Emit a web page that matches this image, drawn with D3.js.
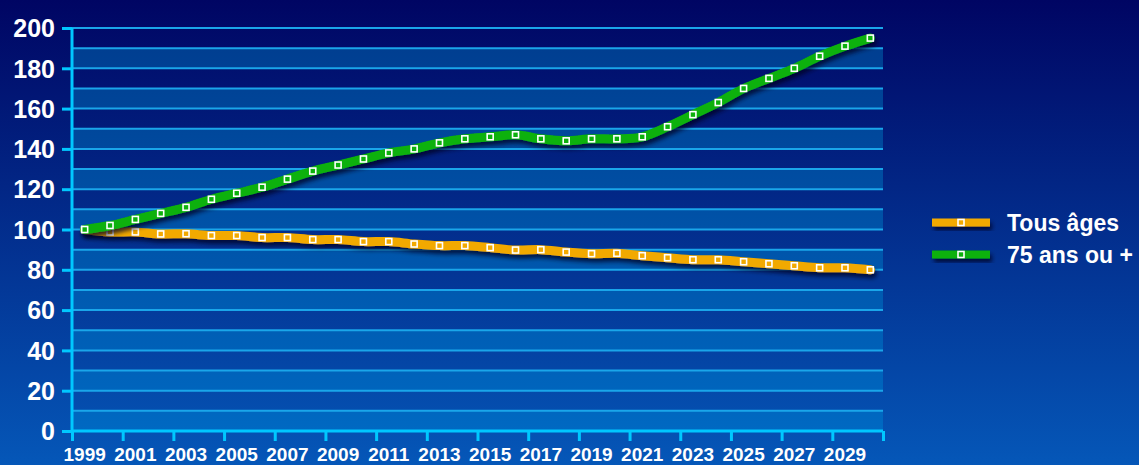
<!DOCTYPE html>
<html><head><meta charset="utf-8">
<script src="https://cdn.jsdelivr.net/npm/d3@7"></script>
<style>html,body{margin:0;padding:0;background:#000766;}svg{display:block;}</style>
</head><body>
<svg id="chart" width="1139" height="465"></svg>
<script>
const years = d3.range(1999, 2031).map(String);
const tousAges = [100,98.8,98.8,97.8,97.9,97,97,96,96,95,95,94,94,92.8,92,92,91,89.8,90,88.8,88,88.2,87,86,85,85,84,83,82,81,81,80];
const ans75 = [100,102,105,108,111,115,118,121,125,129,132,135,138,140,143,145,146,147,145,144,145,145,146,151,157,163,170,175,180,186,191,195];
const seriesNames = ["Tous âges","75 ans ou +"];
const seriesColors = ["#f2a900","#0cb10c"];
const yTicks = [0,20,40,60,80,100,120,140,160,180,200];
const xLabelYears = years.filter((d,i)=>i%2===0);

const svg = d3.select("#chart");
const W = 1139, H = 465;
const L = 72, R = 883, T = 28, B = 431;

const defs = svg.append("defs");
const bg = defs.append("linearGradient").attr("id","bg").attr("x1",0).attr("y1",0).attr("x2",0).attr("y2",1);
bg.append("stop").attr("offset","0%").attr("stop-color","#000563");
bg.append("stop").attr("offset","100%").attr("stop-color","#0557b8");
const lb = defs.append("linearGradient").attr("id","lb").attr("gradientUnits","userSpaceOnUse").attr("x1",0).attr("y1",T).attr("x2",0).attr("y2",B);
lb.append("stop").attr("offset","0%").attr("stop-color","#003c8e");
lb.append("stop").attr("offset","100%").attr("stop-color","#0069c2");
const sh = defs.append("filter").attr("id","shadow").attr("x","-10%").attr("y","-30%").attr("width","130%").attr("height","180%");
sh.append("feDropShadow").attr("dx",2).attr("dy",4).attr("stdDeviation",2).attr("flood-color","#000020").attr("flood-opacity",0.75);

svg.append("rect").attr("width",W).attr("height",H).attr("fill","url(#bg)");

const x = d3.scaleBand().domain(years).range([L,R]);
const xb = d3.scaleLinear().domain([0, years.length]).range([L,R]);
const y = d3.scaleLinear().domain([0,200]).range([B,T]);

// alternate bands
const bands = d3.range(0,200,20);
svg.append("g").selectAll("rect").data(bands).join("rect")
  .attr("x",L).attr("width",R-L)
  .attr("y",d=>y(d+10)).attr("height",d=>y(d)-y(d+10))
  .attr("fill","url(#lb)");

// gridlines every 10
svg.append("g").selectAll("line").data(d3.range(10,201,10)).join("line")
  .attr("x1",L).attr("x2",R).attr("y1",d=>y(d)).attr("y2",d=>y(d))
  .attr("stroke","#1aa6ea").attr("stroke-width",2);

// y axis
const yAxis = svg.append("g").attr("transform",`translate(${L},0)`)
  .call(d3.axisLeft(y).tickValues(yTicks).tickSize(10).tickPadding(7).tickFormat(d3.format("d")));
yAxis.select(".domain").attr("stroke","#00c8ff").attr("stroke-width",3).attr("d",`M0,${T}V${B}`);
yAxis.selectAll(".tick line").attr("stroke","#00c8ff").attr("stroke-width",3);
yAxis.selectAll(".tick text").attr("fill","#fff").attr("font-family","Liberation Sans, Arial, sans-serif")
  .attr("font-weight","bold").attr("font-size",25).attr("dy","0.35em");

// x axis ticks (boundaries every 2 years)
const xAxis = svg.append("g").attr("transform",`translate(0,${B})`)
  .call(d3.axisBottom(xb).tickValues(d3.range(0, years.length+1, 2)).tickSize(10).tickFormat(""));
xAxis.select(".domain").attr("stroke","#00c8ff").attr("stroke-width",3).attr("d",`M${L},0H${R}`);
xAxis.selectAll(".tick line").attr("stroke","#00c8ff").attr("stroke-width",3);

// x labels
svg.append("g").selectAll("text").data(xLabelYears).join("text")
  .attr("x",d=>x(d)+x.bandwidth()/2).attr("y",461)
  .attr("text-anchor","middle").attr("fill","#fff")
  .attr("font-family","Liberation Sans, Arial, sans-serif").attr("font-weight","bold").attr("font-size",19)
  .text(d=>d);

// lines
const allSeries = [tousAges, ans75];
const line = d3.line().x((d,i)=>x(years[i])+x.bandwidth()/2).y(d=>y(d)).curve(d3.curveCatmullRom.alpha(0.5));
allSeries.forEach((vals,si)=>{
  const g = svg.append("g");
  g.append("path").datum(vals).attr("d",line).attr("fill","none")
    .attr("stroke",seriesColors[si]).attr("stroke-width",9).attr("stroke-linejoin","round").attr("stroke-linecap","round")
    .attr("filter","url(#shadow)");
  g.selectAll("rect").data(vals).join("rect")
    .attr("x",(d,i)=>x(years[i])+x.bandwidth()/2-3).attr("y",d=>y(d)-3)
    .attr("width",6).attr("height",6)
    .attr("fill",seriesColors[si]).attr("stroke","#fff").attr("stroke-width",1.6);
});

// legend
const leg = svg.append("g");
seriesNames.forEach((name,i)=>{
  const cy = 222.5 + i*32;
  leg.append("rect").attr("x",932).attr("y",cy-4).attr("width",58).attr("height",8)
    .attr("fill",seriesColors[i]).attr("filter","url(#shadow)");
  leg.append("rect").attr("x",958).attr("y",cy-3).attr("width",6).attr("height",6)
    .attr("fill",seriesColors[i]).attr("stroke","#fff").attr("stroke-width",1.6);
  leg.append("text").attr("x",1007).attr("y",cy).attr("dy","0.35em")
    .attr("fill","#fff").attr("font-family","Liberation Sans, Arial, sans-serif").attr("font-weight","bold").attr("font-size",23)
    .text(name);
});
</script>
</body></html>
